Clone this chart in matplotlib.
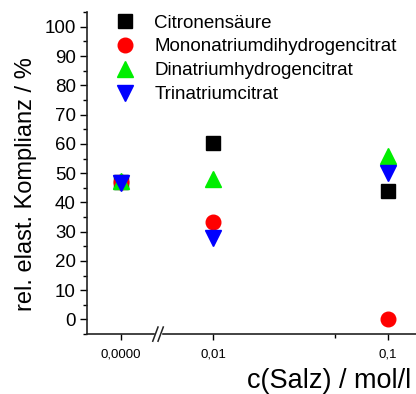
import numpy as np
import matplotlib
matplotlib.use("Agg")
import matplotlib.pyplot as plt

plt.rcParams["font.family"] = ["Liberation Sans", "DejaVu Sans"]

# concentrations in mol/l (0 is shown left of the axis break)
conc = [0.0, 0.01, 0.1]
tick_labels = ["0,0000", "0,01", "0,1"]

citronensaeure = [47.0, 60.2, 44.0]
mononatrium = [47.0, 33.2, 0.0]
dinatrium = [47.3, 48.0, 56.0]
trinatrium = [46.5, 28.0, 50.0]

# where the zero value sits on the log axis (left of the break)
ZERO_POS = 10 ** -2.53


def to_axis(c):
    c = np.asarray(c, dtype=float)
    return np.where(c > 0, c, ZERO_POS)


fig = plt.figure(figsize=(4.16, 3.94), dpi=100)
ax = fig.add_axes([0.209, 0.152, 0.791, 0.817])

x = to_axis(conc)
ms = 10
ax.plot(x, citronensaeure, "s", color="black", ms=ms * 0.95, label="Citronensäure")
ax.plot(x, mononatrium, "o", color="red", ms=ms * 1.05, label="Mononatriumdihydrogencitrat")
ax.plot(x, dinatrium, "^", color="#00ee00", ms=ms * 1.15, label="Dinatriumhydrogencitrat")
ax.plot(x, trinatrium, "v", color="blue", ms=ms * 1.15, label="Trinatriumcitrat")

ax.set_xscale("log")
ax.set_xlim(10 ** -2.724, 10 ** -0.838)
ax.set_ylim(-5, 105)

ax.set_xticks(to_axis(conc))
ax.set_xticklabels(tick_labels, fontsize=9.5)
ax.set_xticks([0.05], minor=True)
ax.xaxis.set_minor_formatter(plt.NullFormatter())

ax.set_yticks(np.arange(0, 101, 10))
ax.set_yticks(np.arange(-5, 106, 5), minor=True)
ax.tick_params(axis="y", labelsize=13.5, length=5, width=1, direction="out", pad=3)
ax.tick_params(axis="y", which="minor", length=3, width=1)
ax.tick_params(axis="x", length=4, width=1, direction="out", pad=6)
ax.tick_params(axis="x", which="minor", length=3, width=1)

for side in ["top", "right"]:
    ax.spines[side].set_visible(False)
for side in ["left", "bottom"]:
    ax.spines[side].set_linewidth(1.2)
    ax.spines[side].set_color("#222222")

# axis break marks
bx = 0.216
ax.add_patch(plt.Rectangle((bx - 0.01, -0.01), 0.02, 0.02, transform=ax.transAxes,
                           color="white", clip_on=False, zorder=5))
for dx in (-0.008, 0.008):
    ax.plot([bx + dx - 0.008, bx + dx + 0.008], [-0.022, 0.022], transform=ax.transAxes,
            color="#222222", lw=1.1, clip_on=False, zorder=6)

ax.set_ylabel("rel. elast. Komplianz / %", fontsize=17)
ax.yaxis.set_label_coords(-0.152, 0.466)
fig.text(0.988, 0.033, "c(Salz) / mol/l", fontsize=19.5, ha="right", va="center")

ax.legend(loc="upper left", bbox_to_anchor=(0.025, 1.028), frameon=False, fontsize=13.5,
          handletextpad=0.55, labelspacing=0.36, borderaxespad=0.2, numpoints=1)

fig.savefig("out.png", dpi=100)
